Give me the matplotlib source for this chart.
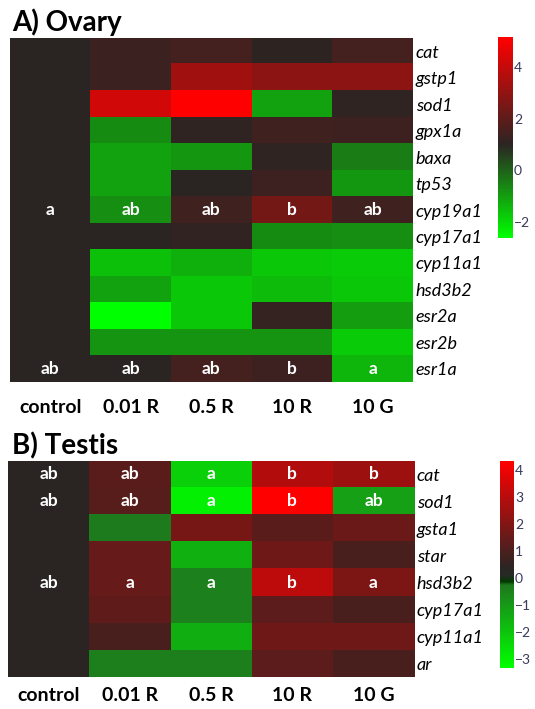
import numpy as np
import matplotlib
matplotlib.use('Agg')
import matplotlib.pyplot as plt
from matplotlib.colors import LinearSegmentedColormap, Normalize
from matplotlib.cm import ScalarMappable

plt.rcParams['font.family'] = ['Lato', 'DejaVu Sans']

groups = ['control', '0.01 R', '0.5 R', '10 R', '10 G']

# ---- A) ovary ----
ovary_genes = ['cat', 'gstp1', 'sod1', 'gpx1a', 'baxa', 'tp53', 'cyp19a1',
               'cyp17a1', 'cyp11a1', 'hsd3b2', 'esr2a', 'esr2b', 'esr1a']
ov_control = [1.0, 1.0, 1.0, 1.0, 1.0, 1.0, 1.0, 1.0, 1.0, 1.0, 1.0, 1.0, 1.0]
ov_001R = [1.33, 1.33, 4.25, -0.68, -1.04, -1.04, -0.75, 1.0, -1.57, -1.04, -2.6, -0.85, 1.0]
ov_05R = [1.5, 3.3, 5.17, 1.1, -0.88, 1.0, 1.4, 1.15, -1.3, -1.7, -1.7, -0.85, 1.5]
ov_10R = [1.06, 2.9, -1.04, 1.4, 1.1, 1.35, 2.46, -0.7, -1.7, -1.5, 1.2, -0.85, 1.35]
ov_10G = [1.5, 2.9, 1.1, 1.35, -0.45, -0.9, 1.4, -0.75, -1.75, -1.7, -1.0, -1.75, -1.4]
ov_letters = {'cyp19a1': ['a', 'ab', 'ab', 'b', 'ab'],
              'esr1a': ['ab', 'ab', 'ab', 'b', 'a']}

# ---- B) testis ----
te_genes = ['cat', 'sod1', 'gsta1', 'star', 'hsd3b2', 'cyp17a1', 'cyp11a1', 'ar']
te_control = [0.4, 0.4, 0.4, 0.4, 0.4, 0.4, 0.4, 0.4]
te_001R = [1.27, 1.2, -0.3, 1.5, 1.5, 1.35, 0.95, -0.4]
te_05R = [-2.26, -2.99, 1.8, -1.53, -0.43, -0.43, -1.5, -0.4]
te_10R = [2.9, 4.33, 1.25, 1.65, 3.1, 1.3, 1.65, 1.3]
te_10G = [2.5, -1.16, 1.6, 0.95, 1.9, 0.95, 1.65, 0.95]
te_letters = {'cat': ['ab', 'ab', 'a', 'b', 'b'],
              'sod1': ['ab', 'ab', 'a', 'b', 'ab'],
              'hsd3b2': ['ab', 'a', 'a', 'b', 'a']}


def make_cmap(nodes, vmin, vmax):
    pts = [((v - vmin) / (vmax - vmin), c) for v, c in nodes]
    return LinearSegmentedColormap.from_list('rg', pts)


ov_min, ov_max = -2.62, 5.17
ov_cmap = make_cmap([(ov_min, '#00ff00'), (1.0, '#2b2523'), (ov_max, '#ff0000')],
                    ov_min, ov_max)

te_min, te_max = -3.33, 4.33
te_cmap = make_cmap([(te_min, '#00ff00'), (-0.25, '#1e781e'), (-0.15, '#003a00'),
                     (0.1, '#262a26'), (0.4, '#2b2523'), (te_max, '#ff0000')],
                    te_min, te_max)


def draw_heat(ax, cax, genes, cols, letters, cmap, vmin, vmax, ticks, xpad):
    data = np.array(cols).T
    norm = Normalize(vmin, vmax)
    ax.imshow(data, cmap=cmap, norm=norm, aspect='auto', interpolation='nearest')
    for s in ax.spines.values():
        s.set_visible(False)
    ax.set_xticks(range(len(groups)))
    ax.set_xticklabels(groups, fontsize=14, fontweight='bold')
    ax.tick_params(axis='x', length=0, pad=xpad)
    ax.yaxis.tick_right()
    ax.set_yticks(range(len(genes)))
    ax.set_yticklabels(genes, fontsize=13, style='italic')
    ax.tick_params(axis='y', length=0, pad=2)
    for g, labs in letters.items():
        r = genes.index(g)
        for c, lab in enumerate(labs):
            ax.text(c, r, lab, color='white', fontsize=12.5, fontweight='bold',
                    ha='center', va='center')
    cb = plt.colorbar(ScalarMappable(norm=norm, cmap=cmap), cax=cax)
    cb.outline.set_visible(False)
    cb.set_ticks(ticks)
    cb.ax.tick_params(length=0, labelsize=10, labelcolor='#3a3a5a', pad=1)


fig = plt.figure(figsize=(5.35, 7.09), dpi=100)

ax1 = fig.add_axes([0.0187, 0.4612, 0.753, 0.4852])
cax1 = fig.add_axes([0.930, 0.6643, 0.028, 0.2835])
draw_heat(ax1, cax1, ovary_genes, [ov_control, ov_001R, ov_05R, ov_10R, ov_10G],
          ov_letters, ov_cmap, ov_min, ov_max, [4, 2, 0, -2], 12)

ax2 = fig.add_axes([0.015, 0.0451, 0.759, 0.3047])
cax2 = fig.add_axes([0.934, 0.0578, 0.026, 0.292])
draw_heat(ax2, cax2, te_genes, [te_control, te_001R, te_05R, te_10R, te_10G],
          te_letters, te_cmap, te_min, te_max, [4, 3, 2, 1, 0, -1, -2, -3], 7)

fig.text(0.022, 0.969, 'A) Ovary', fontsize=20, fontweight='bold', va='center')
fig.text(0.022, 0.371, 'B) Testis', fontsize=20, fontweight='bold', va='center')

plt.savefig('out.png', dpi=100)
plt.close('all')
